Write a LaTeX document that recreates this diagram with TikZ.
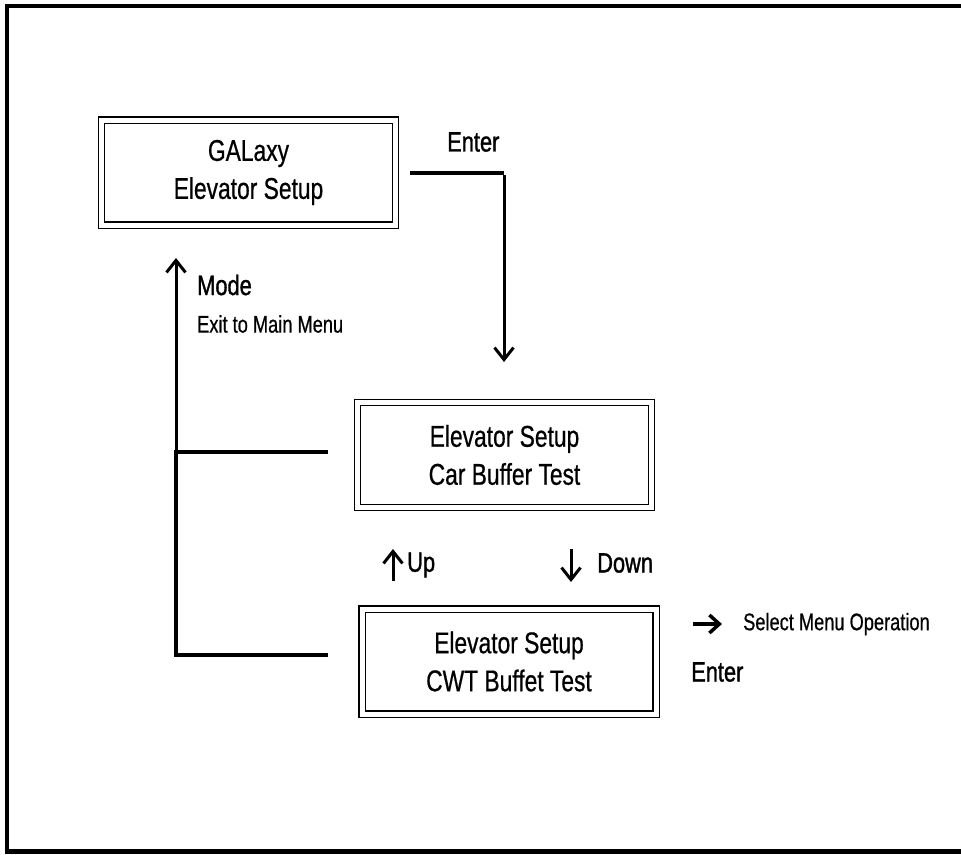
\documentclass[tikz,border=0pt]{standalone}
\usepackage{fontspec}
\setmainfont{Liberation Sans}[FakeStretch=0.76,FakeBold=0.6]
\newfontfamily\heavyfont{Liberation Sans}[FakeStretch=0.78,FakeBold=1.2]
\usetikzlibrary{arrows.meta}
\tikzset{
  menubox/.style={draw, double, double distance=5pt, line width=1.3pt,
    minimum width=294pt, minimum height=105pt, inner sep=0pt, align=center,
    font=\fontsize{30}{38}\selectfont},
  flow/.style={line width=3.8pt},
  arr/.style={line width=3pt, -{Straight Barb[length=12pt,width=19pt,line width=3pt]}},
  lbl/.style={anchor=west, inner sep=0pt, font=\heavyfont\fontsize{28}{30}\selectfont},
  small/.style={anchor=west, inner sep=0pt, font=\fontsize{24}{28}\selectfont},
}
\begin{document}
\begin{tikzpicture}[x=1pt, y=-1pt]
\useasboundingbox (0,0) rectangle (961,854);
% outer frame
\draw[line width=4.5pt] (961,6) -- (7,6) -- (7,851.5) -- (961,851.5);

% menu boxes
\node[menubox] (b1) at (248.5,172.5) {GALaxy\\Elevator Setup};
\node[menubox] (b2) at (504.5,455) {Elevator Setup\\Car Buffer Test};
\node[menubox] (b3) at (509,661.5) {Elevator Setup\\CWT Buffet Test};

% Enter from main menu
\coordinate (e0) at (410,173);
\coordinate (e1) at (504,173);
\coordinate (e2) at (504,362);
\draw[line width=3.8pt] (e0) -- (e1);
\draw[arr] ([yshift=-1.9pt]e1) -- (e2);
\node[lbl] (enter1) at (447,142) {Enter};

% Mode back to main menu
\coordinate (j2) at (328,452);
\coordinate (j3) at (328,655);
\coordinate (c2) at (176,452);
\coordinate (c3) at (176,655);
\coordinate (m) at (176,258);
\draw[flow] (j2) -- ([xshift=-1.9pt]c2);
\draw[flow] (j3) -- ([xshift=-1.9pt]c3);
\draw[flow] (c3) -- (c2);
\draw[arr] ([yshift=1pt]c2) -- (m);
\node[lbl] (mode) at (197,285) {Mode};
\node[small] (exit) at (197,324) {Exit to Main Menu};

% Up / Down
\coordinate (u0) at (393,581);
\coordinate (u1) at (393,549);
\draw[arr] (u0) -- (u1);
\node[lbl] (up) at (407,565) {Up};
\coordinate (d0) at (571,549);
\coordinate (d1) at (571,582);
\draw[arr] (d0) -- (d1);
\node[lbl] (down) at (597,563) {Down};

% Select / Enter
\coordinate (s0) at (693,624);
\coordinate (s1) at (722,624);
\draw[line width=3.5pt, -{Straight Barb[length=10pt,width=18pt,line width=3.5pt]}] (s0) -- (s1);
\node[small] (sel) at (743,624) {Select Menu Operation};
\node[lbl] (enter2) at (691,672) {Enter};
\end{tikzpicture}
\end{document}
